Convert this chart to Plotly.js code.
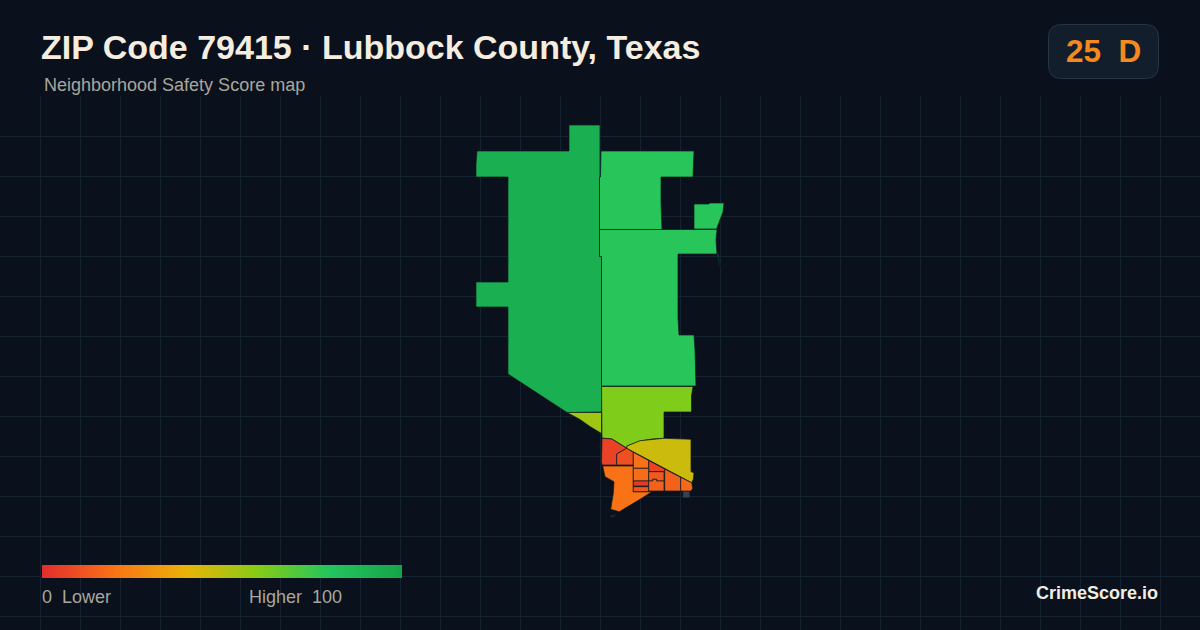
<!DOCTYPE html>
<html>
<head>
<meta charset="utf-8">
<script src="https://cdn.plot.ly/plotly-3.0.1.min.js"></script>
<style>html,body{margin:0;padding:0;background:#0a111c;overflow:hidden}#chart{width:1200px;height:630px}</style>
</head>
<body>
<div id="chart"></div>
<script>
// Header / legend text
const titleText = 'ZIP Code 79415 \u00b7 Lubbock County, Texas';
const subtitleText = 'Neighborhood Safety Score map';
const zipScore = 25;
const zipGrade = 'D';
const lowLabel = '0\u00a0\u00a0Lower';
const highLabel = 'Higher\u00a0\u00a0100';
const brandText = 'CrimeScore.io';

// Score colour scale
const scaleScores = [0, 20, 40, 60, 80, 100];
const scaleColors = ['#e22d2d', '#f97316', '#eab308', '#84cc16', '#22c55e', '#16a34a'];

// Neighborhood scores
const names = ['west','northEast','island','east','sliver','lime','limeWedge','yellow','red1','red2','southWest',
               'blockA','blockB','blockC','blockD','blockE','blockF','blockG','blockH','blockI'];
const scores = [93, 79, 79, 79, 79, 61, 55, 46, 6, 10, 20, 19, 6, 18, 3, 12, 13, 15, 15, 17];

// Neighborhood outlines (map coordinates)
const westX = [569,600,600,599.5,599.5,601.5,601.5,567,508,508,476,476,508,508,476,476,477,569];
const westY = [125,125,177,177,256.5,256.5,412,412.5,374,307,307,282,282,177,177,164,151,151];
const northEastX = [601,694,693,661,661,662,599.5,599.5,600.5];
const northEastY = [151,151,177,177,203,229.5,229.5,177,177];
const islandX = [694,709,709,724,723,719,716.5,694];
const islandY = [204,204,203,203,212,222,229,229];
const eastX = [599.5,717,716,717,678,678,679,694,695,696,601.5,601.5,599.5];
const eastY = [229.5,229.5,240,254,254,318,335,335,350,386,386,256.5,256.5];
const sliverX = [717,718,720.5];
const sliverY = [254,254,268];
const limeX = [601.5,693,691.5,691.5,664,664,652,640,627,627,612,602];
const limeY = [386.5,386.5,396,412,412,438.3,439,441,446,448.3,439,438];
const limeWedgeX = [567,601.5,601.5,590,580];
const limeWedgeY = [412.5,412.5,433.5,426.5,419.5];
const yellowX = [626.7,627,640,656.7,664,691,691,694,693.3,691.7];
const yellowY = [448.3,446,440.7,439,438.3,439.3,471.7,472.7,479.3,482.7];
const red1X = [602,611.7,626.7,616.7,616.7,602,601.5];
const red1Y = [438.3,439,448.3,454,465,465,461.7];
const red2X = [616.7,626.7,633.3,633.3,616.7];
const red2Y = [454,448.3,452.3,465,465];
const southWestX = [602.7,633.3,633.3,651.7,643.3,619.3,610.7,613.3,614,605];
const southWestY = [466,466,491.7,491.7,497.3,511.7,509.3,493.3,481.7,476.7];
const blockAX = [633.3,648.7,648.7,633.3];
const blockAY = [452.3,460.5,468.3,468.3];
const blockBX = [648.7,664.7,664.7,648.7];
const blockBY = [460.5,469,471.7,471.7];
const blockCX = [633.3,648.7,648.7,633.3];
const blockCY = [468.3,468.3,481,481];
const blockDX = [633.3,648.7,648.7,633.3];
const blockDY = [481,481,486,486];
const blockEX = [633.3,648.7,648.7,633.3];
const blockEY = [486.7,486.7,491.7,491.7];
const blockFX = [648.7,664,664,656.7,656.7,652.7,652.7,648.7];
const blockFY = [471.7,471.7,481,481,479.3,479.3,481,481];
const blockGX = [648.7,652.7,652.7,656.7,656.7,664,664,648.7];
const blockGY = [481,481,479.3,479.3,481,481,491,491];
const blockHX = [664.7,680.7,680.7,664.7];
const blockHY = [469,477.3,491,491];
const blockIX = [680.7,691.7,692.7,691,680.7];
const blockIY = [477.3,482.7,488.3,491,491];
const noDataX = [683.3,689.3,689.3,683.3];
const noDataY = [491.7,491.7,497.3,497.3];
const specX = [610,615,615,611];
const specY = [516,514.5,516,517.5];

const outlinesX = [westX,northEastX,islandX,eastX,sliverX,limeX,limeWedgeX,yellowX,red1X,red2X,southWestX,
                   blockAX,blockBX,blockCX,blockDX,blockEX,blockFX,blockGX,blockHX,blockIX];
const outlinesY = [westY,northEastY,islandY,eastY,sliverY,limeY,limeWedgeY,yellowY,red1Y,red2Y,southWestY,
                   blockAY,blockBY,blockCY,blockDY,blockEY,blockFY,blockGY,blockHY,blockIY];

function hexToRgb(h){return [1,3,5].map(i=>parseInt(h.substr(i,2),16));}
function scoreColor(s){
  let i=0;
  while(i<scaleScores.length-2 && s>scaleScores[i+1]) i++;
  const t=(s-scaleScores[i])/(scaleScores[i+1]-scaleScores[i]);
  const a=hexToRgb(scaleColors[i]), b=hexToRgb(scaleColors[i+1]);
  return 'rgb('+a.map((v,k)=>Math.round(v+(b[k]-v)*t)).join(',')+')';
}

const W=1200,H=630,BG='#0a111c',GRID='#152230',EDGE='#0d1a22';
const traces = names.map((n,i)=>({
  type:'scatter',mode:'lines',name:n,
  x:outlinesX[i].concat(outlinesX[i][0]),y:outlinesY[i].concat(outlinesY[i][0]),
  fill:'toself',fillcolor:scoreColor(scores[i]),
  line:{color:EDGE,width:0.7},hoverinfo:'skip',showlegend:false
}));
traces.push({type:'scatter',mode:'lines',x:noDataX.concat(noDataX[0]),y:noDataY.concat(noDataY[0]),fill:'toself',
  fillcolor:'#374151',line:{color:'#374151',width:0.5},hoverinfo:'skip',showlegend:false});
traces.push({type:'scatter',mode:'lines',x:specX.concat(specX[0]),y:specY.concat(specY[0]),fill:'toself',
  fillcolor:'#1f2937',line:{color:'#1f2937',width:0.5},hoverinfo:'skip',showlegend:false});

// Legend ramp, drawn on its own 0-100 score axis
traces.push({type:'heatmap',xaxis:'x2',yaxis:'y2',x:scaleScores,y:[0,1],z:[scaleScores,scaleScores],
  zmin:0,zmax:100,zsmooth:'best',showscale:false,hoverinfo:'skip',
  colorscale:scaleScores.map((s,i)=>[s/100,scaleColors[i]])});

const px=x=>x/W, py=y=>1-y/H;
function label(text,x,y,size,color,anchor,bold){
  return {text:text,xref:'paper',yref:'paper',x:px(x),y:py(y),xanchor:anchor||'left',yanchor:'middle',showarrow:false,
    borderpad:0,font:{family:'"Liberation Sans",Arial,sans-serif',size:size,color:color,weight:bold?700:400}};
}
function roundedRect(x0,y0,x1,y1,r){
  const X=px,Y=py;
  return 'M'+X(x0+r)+','+Y(y0)+' L'+X(x1-r)+','+Y(y0)+' Q'+X(x1)+','+Y(y0)+' '+X(x1)+','+Y(y0+r)+
    ' L'+X(x1)+','+Y(y1-r)+' Q'+X(x1)+','+Y(y1)+' '+X(x1-r)+','+Y(y1)+
    ' L'+X(x0+r)+','+Y(y1)+' Q'+X(x0)+','+Y(y1)+' '+X(x0)+','+Y(y1-r)+
    ' L'+X(x0)+','+Y(y0+r)+' Q'+X(x0)+','+Y(y0)+' '+X(x0+r)+','+Y(y0)+' Z';
}

const layout = {
  width:W,height:H,margin:{l:0,r:0,t:0,b:0},paper_bgcolor:BG,plot_bgcolor:BG,showlegend:false,
  xaxis:{range:[0,W],domain:[0,1],tick0:0,dtick:40,showgrid:true,gridcolor:GRID,gridwidth:1,zeroline:false,showticklabels:false,ticks:'',showline:false,fixedrange:true},
  yaxis:{range:[630,95.5],domain:[0,534.5/630],tick0:96,dtick:40,showgrid:true,gridcolor:GRID,gridwidth:1,zeroline:false,showticklabels:false,ticks:'',showline:false,fixedrange:true},
  xaxis2:{domain:[px(42),px(402)],range:[0,100],visible:false,anchor:'y2',fixedrange:true},
  yaxis2:{domain:[py(578),py(565)],range:[0,1],visible:false,anchor:'x2',fixedrange:true},
  shapes:[{type:'path',xref:'paper',yref:'paper',path:roundedRect(1048.5,24.5,1158.5,78.5,13),fillcolor:'#121e2c',line:{color:'#263445',width:1}}],
  annotations:[
    label(titleText,40,47,34,'#f5ede0','left',true),
    label(subtitleText,43,85,18,'#a9a69b','left',false),
    label(zipScore+'\u00a0\u00a0'+zipGrade,1103,51,31.5,'#f5891f','center',true),
    label(lowLabel,41,596.5,18,'#a9a69b','left',false),
    label(highLabel,248,596.5,18,'#a9a69b','left',false),
    label(brandText,1158.5,592.5,18,'#f2ede2','right',true)
  ]
};
Plotly.newPlot('chart',traces,layout,{staticPlot:true,displayModeBar:false});
</script>
</body>
</html>
